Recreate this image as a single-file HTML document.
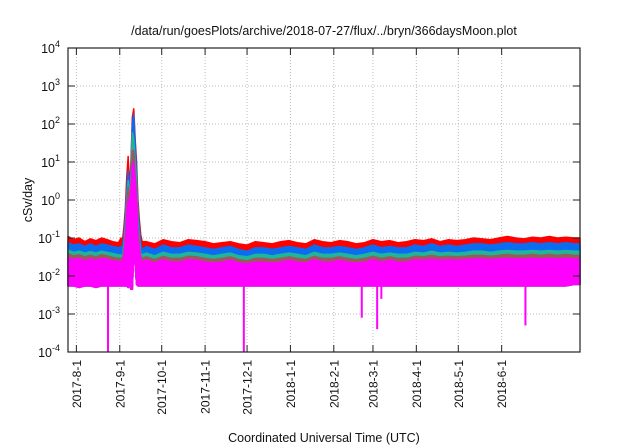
<!DOCTYPE html>
<html><head><meta charset="utf-8"><style>
html,body{margin:0;padding:0;background:#fff;}
svg{display:block;font-family:"Liberation Sans",sans-serif;}
</style></head><body>
<svg id="chart" width="640" height="448" viewBox="0 0 640 448">
<text x="324" y="35" font-size="12.5" text-anchor="middle" fill="#111">/data/run/goesPlots/archive/2018-07-27/flux/../bryn/366daysMoon.plot</text>
<text transform="translate(32,200) rotate(-90)" font-size="12.5" text-anchor="middle" fill="#111">cSv/day</text>
<text x="324" y="442" font-size="12.5" text-anchor="middle" fill="#111">Coordinated Universal Time (UTC)</text>
<g id="grid"></g><g id="series"></g><g id="axes"></g>
</svg>
<script>
const days = [0,4,8,12,16,20,24,28,32,36,
38,39,40,41,42,43,44,45,46,47,48,49,50,51,52,53,
56,62,68,74,80,86,92,98,104,110,116,122,128,134,140,146,152,158,164,170,176,182,188,194,200,206,212,218,224,230,236,242,248,254,260,266,272,278,284,290,296,302,308,314,320,326,332,338,344,350,356,362,366];
const redVals = [.11,.09,.1,.08,.095,.085,.1,.09,.08,.075,
.1,.09,.2,.6,4,14,2,10,150,250,40,10,1,.3,.12,.08,
.08,.07,.09,.08,.075,.09,.085,.08,.07,.075,.08,.07,.065,.08,.075,.07,.08,.085,.075,.07,.09,.08,.075,.085,.08,.07,.075,.09,.08,.085,.075,.08,.09,.085,.095,.08,.09,.085,.09,.1,.095,.09,.1,.11,.1,.095,.105,.1,.11,.1,.105,.1,.1];
const blueVals = [.075,.065,.07,.06,.07,.06,.07,.065,.06,.055,
.06,.06,.12,.4,2,6,1.5,6,100,180,30,6,.6,.2,.07,.05,
.06,.05,.065,.055,.055,.065,.06,.055,.05,.055,.06,.05,.045,.055,.055,.05,.055,.06,.055,.05,.065,.055,.055,.06,.055,.05,.055,.065,.055,.06,.055,.055,.065,.06,.07,.06,.065,.06,.065,.07,.07,.065,.07,.075,.07,.07,.075,.07,.075,.07,.075,.07,.07];
const tealVals = [.048,.042,.045,.04,.044,.04,.045,.042,.039,.036,
.036,.036,.07,.22,1.1,3.2,1.1,4,60,40,10,3,.3,.1,.04,.036,
.04,.034,.042,.037,.037,.042,.04,.037,.034,.037,.04,.034,.032,.037,.037,.034,.037,.04,.037,.034,.042,.037,.037,.04,.037,.034,.037,.042,.037,.04,.037,.037,.042,.04,.045,.04,.042,.04,.042,.045,.045,.042,.045,.047,.045,.045,.047,.045,.047,.045,.047,.045,.045];
const brownVals = [.038,.034,.036,.032,.035,.032,.036,.034,.031,.029,
.029,.029,.052,.14,.8,2.2,.9,3,20,20,5,2,.2,.07,.032,.029,
.032,.027,.033,.029,.029,.033,.032,.029,.027,.029,.032,.027,.025,.029,.029,.027,.029,.032,.029,.027,.033,.029,.029,.032,.029,.027,.029,.033,.029,.032,.029,.029,.033,.032,.035,.032,.033,.032,.033,.035,.035,.033,.035,.037,.035,.035,.037,.035,.037,.035,.037,.035,.035];
const magTopVals = [.03,.027,.029,.025,.028,.026,.029,.027,.025,.024,
.024,.024,.035,.09,.45,1.1,.55,2,8,10,3,1,.1,.05,.025,.024,
.026,.022,.027,.023,.023,.027,.026,.023,.022,.023,.026,.022,.021,.023,.023,.022,.023,.026,.023,.022,.027,.023,.023,.026,.023,.022,.023,.027,.023,.026,.023,.023,.027,.026,.028,.026,.027,.026,.027,.028,.028,.027,.028,.029,.028,.028,.029,.028,.029,.028,.029,.028,.028];
const magBotVals = [.0055,.0055,.005,.0055,.0055,.005,.0055,.0055,.0055,.0055,
.0055,.0055,.0055,.0055,.0055,.005,.0055,.0045,.0045,.04,.02,.006,.0055,.0055,.0055,.0055,
.0055,.0055,.0055,.0055,.0055,.0055,.0055,.0055,.0055,.0055,.0055,.0055,.0055,.0055,.0055,.0055,.0055,.0055,.0055,.0055,.0055,.0055,.0055,.0055,.0055,.0055,.0055,.0055,.0055,.0055,.0055,.0055,.0055,.0055,.0055,.0055,.0055,.0055,.0055,.0055,.0055,.0055,.0055,.0055,.0055,.0055,.0055,.0055,.0055,.0055,.0055,.006,.006];
const dipDays = [28.6,125.7,210,221,224,327];
const dipVals = [1e-4,1e-4,8e-4,4e-4,2.5e-3,5e-4];
const monthTicks = [6,37,67,98,128,159,190,218,249,279,310];
const monthLabels = ["2017-8-1","2017-9-1","2017-10-1","2017-11-1","2017-12-1","2018-1-1","2018-2-1","2018-3-1","2018-4-1","2018-5-1","2018-6-1"];
const yExps = [-4,-3,-2,-1,0,1,2,3,4];

const L=68,R=580,T=48,B=352,D0=0,D1=366;
const xS=d=>L+(d-D0)/(D1-D0)*(R-L);
const yS=v=>B-(Math.log10(v)+4)/8*(B-T);
const NS="http://www.w3.org/2000/svg";
function mk(tag,attrs,parent){const e=document.createElementNS(NS,tag);for(const k in attrs)e.setAttribute(k,attrs[k]);parent.appendChild(e);return e;}
const grid=document.getElementById('grid'),ser=document.getElementById('series'),axes=document.getElementById('axes');

monthTicks.forEach((d,i)=>{
  const g=mk('line',{x1:xS(d),x2:xS(d),y1:T,y2:B,stroke:'#bbb','stroke-dasharray':'1,2','stroke-width':1},grid);
  
  
  const t=mk('line',{x1:xS(d),x2:xS(d),y1:B,y2:B-7,stroke:'#222','stroke-width':1},axes);
  
  
  const t2=mk('line',{x1:xS(d),x2:xS(d),y1:T,y2:T+7,stroke:'#222','stroke-width':1},axes);
  
  
  const lb=mk('text',{transform:`translate(${xS(d)+4.5},360) rotate(-90)`,'font-size':12,'text-anchor':'end',fill:'#111'},axes);
  lb.textContent=monthLabels[i];
  
  
});
yExps.forEach(e=>{
  const y=yS(Math.pow(10,e));
  if(e>-4&&e<4){const g=mk('line',{x1:L,x2:R,y1:y,y2:y,stroke:'#bbb','stroke-dasharray':'1,2','stroke-width':1},grid);
  
  }
  const t=mk('line',{x1:L,x2:L+7,y1:y,y2:y,stroke:'#222'},axes);
  
  
  const t2=mk('line',{x1:R,x2:R-7,y1:y,y2:y,stroke:'#222'},axes);
  
  
  const lb=mk('text',{x:60,y:y+5,'font-size':12.5,'text-anchor':'end',fill:'#111'},axes);
  
  
  const b=mk('tspan',{},lb);b.textContent='10';
  const s=mk('tspan',{dy:-6,'font-size':9},lb);s.textContent=String(e);
});

function band(top,bot,color,name){
  let up='',dn=[];
  for(let i=0;i<days.length;i++){
    const x=xS(days[i]);
    up+=(i?'L':'M')+x+','+yS(top[i]);
    dn.unshift('L'+x+','+yS(bot[i]));
  }
  const p=mk('path',{d:up+dn.join('')+'Z',fill:color,stroke:color,'stroke-width':1.5,'stroke-linejoin':'round'},ser);
  
  
}
band(redVals,magBotVals,'#ff0000','series-red');
band(blueVals,magBotVals,'#0a6cf0','series-blue');
band(tealVals,magBotVals,'#1fb59a','series-teal');
band(brownVals,magBotVals,'#9b5a5a','series-brown');
band(magTopVals,magBotVals,'#ff00ff','series-magenta');
dipDays.forEach((d,i)=>{
  const l=mk('line',{x1:xS(d),x2:xS(d),y1:yS(0.006),y2:yS(dipVals[i]),stroke:'#ff00ff','stroke-width':2},ser);
  
  
});
const fr=mk('rect',{x:L,y:T,width:R-L,height:B-T,fill:'none',stroke:'#222','stroke-width':1.2},axes);


</script>
</body></html>
